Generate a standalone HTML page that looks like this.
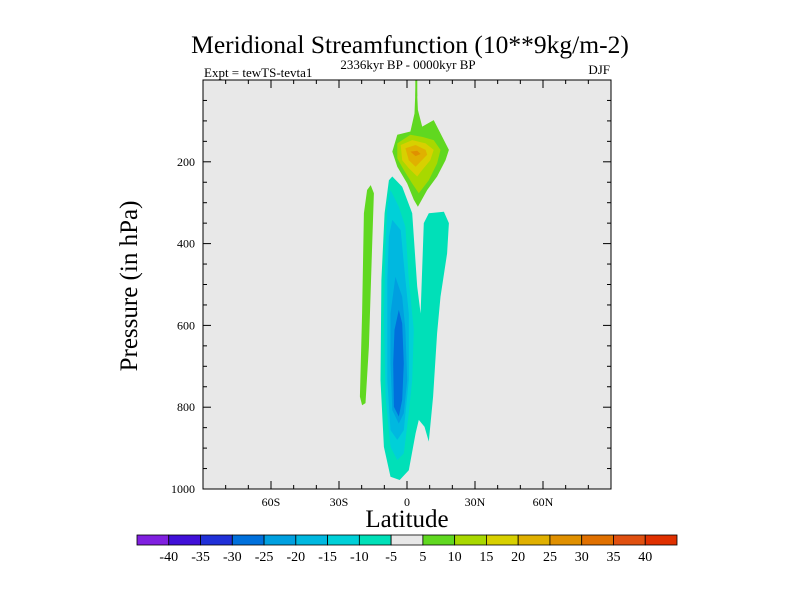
<!DOCTYPE html>
<html><head><meta charset="utf-8"><style>
body{margin:0;background:#fff;}
svg text{font-family:"Liberation Serif",serif;fill:#000;}
</style></head><body>
<svg id="chart" width="800" height="600" xmlns="http://www.w3.org/2000/svg">
<rect width="800" height="600" fill="#fff"/>
<text x="410" y="53" font-size="25.5" text-anchor="middle">Meridional Streamfunction (10**9kg/m-2)</text>
<text x="204" y="77" font-size="13">Expt = tewTS-tevta1</text>
<text x="408" y="69" font-size="13" text-anchor="middle">2336kyr BP - 0000kyr BP</text>
<text x="610" y="74" font-size="13" text-anchor="end">DJF</text>
<rect x="203" y="80" width="408" height="409" fill="#e8e8e8"/>
<g id="contours"></g>
<g id="axes"></g>
<text x="0" y="0" font-size="25" text-anchor="middle" transform="translate(137,286) rotate(-90)">Pressure (in hPa)</text>
<text x="407" y="527" font-size="25" text-anchor="middle">Latitude</text>
<g id="colorbar"></g>
</svg>
<script>
const levelColors=["#8020e0","#4010d8","#2030d8","#0070dc","#00a0e0","#00b8e0","#00d0d8","#00e0b8","#e8e8e8","#60d820","#a8d800","#d8d000","#e0b000","#e09000","#e07000","#e05010","#e03000"];
const levelLabels=["-40","-35","-30","-25","-20","-15","-10","-5","5","10","15","20","25","30","35","40"];
const latTicks=[-60,-30,0,30,60];
const latTickLabels=["60S","30S","0","30N","60N"];
const presTicks=[200,400,600,800,1000];
// contour regions: [colorIndex, lat/pressure points]
const regionLevels=[9,7,6,5,4,3,9,10,11,12,13];
const regionLat=[
[-16,-14.6,-15.4,-16.8,-18.3,-19.8,-20.8,-19.8,-19,-17.6],
[-8,-6.5,-2.1,2.3,3.3,4.5,6,7.4,9.6,16.3,18.5,17.7,14.8,13.3,11.5,9.6,7.7,5.2,3.8,0.8,-3.2,-7.3,-10.2,-11.7,-11.3,-9.9],
[-7.3,-3.6,-0.7,0.8,3,2.3,0.8,-1.4,-4.3,-7.3,-9.5,-10.2,-9.5,-8.7],
[-6.5,-2.8,-1.4,0.8,0.8,-1.4,-4.3,-7.3,-8.7,-8.7,-8],
[-5.1,-2.1,-0.7,0.1,-1.4,-3.6,-6.5,-7.3,-7.3],
[-3.6,-2.1,-1.4,-2.1,-3.6,-5.8,-6.1,-5.5],
[4.2,4.8,6.7,11.8,14,18.5,17,13.3,8.9,4.8,3,0.1,-4.3,-6.5,-4.3,1.5,3.3,3.9],
[-4.3,1.5,6.7,11.8,14.8,13.3,9.6,5.2,2.3,-1.4,-4.3],
[-2.8,2.3,8.2,11.8,10.3,6.7,4.5,0.8,-2.1],
[-0.7,3.8,8.2,8.9,5.9,3.8,0.8],
[1.5,4.5,6,3.8]];
const regionPres=[
[257,277,408,652,790,795,774,570,326,269],
[245,236,261,326,408,505,571,350,326,322,350,424,530,619,774,884,848,831,864,954,978,970,897,734,489,326],
[269,310,359,489,611,734,815,913,929,897,774,571,408,310],
[342,367,448,571,734,856,880,856,734,489,383],
[481,530,611,734,815,840,807,693,571],
[562,595,693,782,823,799,693,611],
[0,73,114,98,122,171,196,236,269,310,293,253,212,175,134,126,82,0],
[155,134,139,147,171,204,245,277,253,220,192],
[159,147,155,171,196,220,236,216,196],
[167,159,171,183,200,212,196],
[175,173,181,186]];
const X0=203,X1=611,Y0=80,Y1=489;
const xs=lat=>X0+(lat+90)/180*(X1-X0);
const ys=p=>Y0+p/1000*(Y1-Y0);
const NS="http://www.w3.org/2000/svg";
function mk(tag,attrs,parent){const e=document.createElementNS(NS,tag);for(const k in attrs)e.setAttribute(k,attrs[k]);parent.appendChild(e);return e;}
const cg=document.getElementById('contours');
regionLat.forEach((la,i)=>{
  const pts=la.map((l,j)=>xs(l).toFixed(1)+','+ys(regionPres[i][j]).toFixed(1)).join(' ');
  const e=mk('polygon',{points:pts,fill:levelColors[regionLevels[i]]},cg);
  
  
});
const ln=mk('line',{x1:xs(4.1),y1:Y0,x2:xs(4.1),y2:ys(40),stroke:"#60d820","stroke-width":2},cg);


const ag=document.getElementById('axes');
const fr=mk('rect',{x:X0,y:Y0,width:X1-X0,height:Y1-Y0,fill:"none",stroke:"#000","stroke-width":1},ag);


for(let l=-80;l<=80;l+=10){
  const len=(l%30===0)?8:4;
  mk('line',{x1:xs(l),y1:Y1,x2:xs(l),y2:Y1-len,stroke:"#000"},ag);
  mk('line',{x1:xs(l),y1:Y0,x2:xs(l),y2:Y0+len,stroke:"#000"},ag);
}
for(let p=50;p<1000;p+=50){
  const len=(p%200===0)?8:4;
  mk('line',{x1:X0,y1:ys(p),x2:X0+len,y2:ys(p),stroke:"#000"},ag);
  mk('line',{x1:X1,y1:ys(p),x2:X1-len,y2:ys(p),stroke:"#000"},ag);
}
latTicks.forEach((l,i)=>{
  const t=mk('text',{x:xs(l),y:Y1+17,"font-size":12,"text-anchor":"middle"},ag);
  t.textContent=latTickLabels[i];
  
  
});
presTicks.forEach(p=>{
  const t=mk('text',{x:X0-8,y:ys(p)+4,"font-size":12,"text-anchor":"end"},ag);
  t.textContent=p;
  
  
});
const cb=document.getElementById('colorbar');
const CB0=137,CB1=677,CBY=535,CBH=10,bw=(CB1-CB0)/levelColors.length;
levelColors.forEach((c,i)=>{
  const r=mk('rect',{x:CB0+i*bw,y:CBY,width:bw,height:CBH,fill:c,stroke:"#000","stroke-width":0.8},cb);
  
  
});
levelLabels.forEach((s,i)=>{
  const t=mk('text',{x:CB0+(i+1)*bw,y:CBY+26,"font-size":14,"text-anchor":"middle"},cb);
  t.textContent=s;
  
  
});
</script>
</body></html>
